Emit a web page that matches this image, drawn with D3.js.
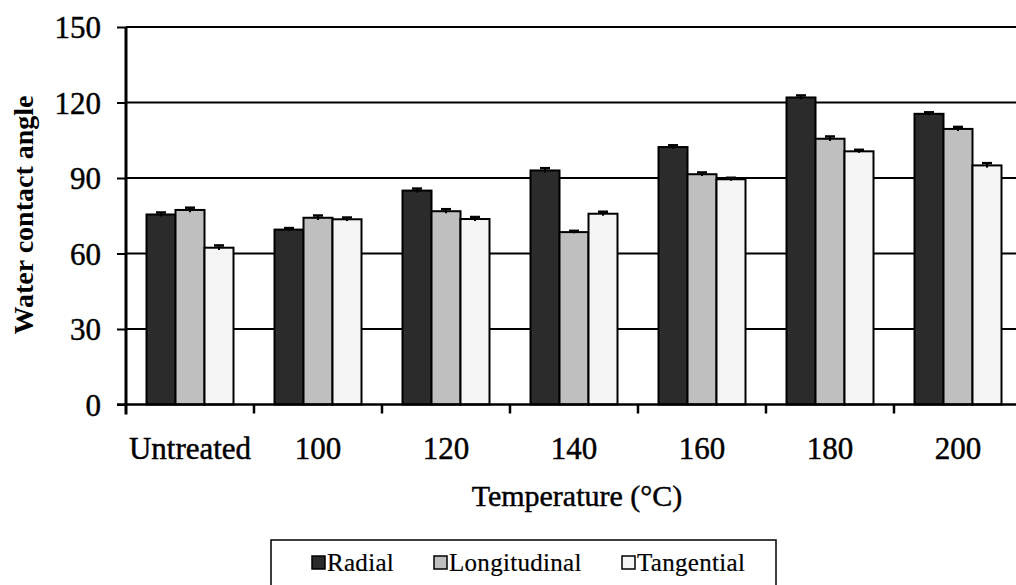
<!DOCTYPE html>
<html>
<head>
<meta charset="utf-8">
<script src="https://cdn.jsdelivr.net/npm/d3@7"></script>
<style>
  body { margin: 0; background: #fff; }
  svg { display: block; font-family: "Liberation Serif", "Times New Roman", serif; }
  text { stroke: #000; stroke-width: 0.45px; fill: #000; }
</style>
</head>
<body>
<div id="chart"></div>
<script>
const categories = ['Untreated', '100', '120', '140', '160', '180', '200'];
const series = ['Radial', 'Longitudinal', 'Tangential'];
const radial = [75.5, 69.5, 85, 93, 102.3, 122, 115.5];
const longitudinal = [77.3, 74.2, 76.8, 68.5, 91.5, 105.6, 109.5];
const tangential = [62.3, 73.6, 73.7, 75.8, 89.5, 100.6, 95];
const radialErr = [0.8, 0.6, 0.8, 0.9, 0.7, 0.8, 0.6];
const longitudinalErr = [0.9, 0.9, 0.8, 0.5, 0.7, 0.9, 0.8];
const tangentialErr = [0.9, 0.7, 0.8, 0.8, 0.6, 0.6, 0.9];
const yTicks = [0, 30, 60, 90, 120, 150];
const colors = ['#2b2b2b', '#bfbfbf', '#f5f5f5'];

const w = 1016, h = 585;
const values = [radial, longitudinal, tangential];
const errs = [radialErr, longitudinalErr, tangentialErr];

const svg = d3.select('#chart').append('svg').attr('width', w).attr('height', h);

// the plot runs a little past the right edge of the picture
const xScale = d3.scaleBand().domain(categories).range([126, 1022]);
const xInner = d3.scaleBand().domain(series).range([0, xScale.bandwidth()]).paddingOuter(0.707);
const yScale = d3.scaleLinear().domain([0, 150]).range([404.5, 27]);

// gridlines
svg.append('g')
    .selectAll('line')
    .data(yTicks.filter(d => d > 0))
    .enter()
    .append('line')
    .attr('x1', 126).attr('x2', w)
    .attr('y1', d => yScale(d)).attr('y2', d => yScale(d))
    .attr('stroke', '#000').attr('stroke-width', 2);

// bars
const rows = [];
categories.forEach((c, i) => series.forEach((s, j) => rows.push({ c, s, j, v: values[j][i], e: errs[j][i] })));
const cx = d => xScale(d.c) + xInner(d.s) + xInner.bandwidth() / 2;

svg.append('g')
    .selectAll('rect')
    .data(rows)
    .enter()
    .append('rect')
    .attr('x', d => xScale(d.c) + xInner(d.s))
    .attr('y', d => yScale(d.v))
    .attr('width', xInner.bandwidth())
    .attr('height', d => yScale(0) - yScale(d.v))
    .attr('fill', d => colors[d.j])
    .attr('stroke', '#000')
    .attr('stroke-width', 2);

// error bars
const eb = svg.append('g').selectAll('g').data(rows).enter().append('g');
eb.append('line')
    .attr('x1', cx).attr('x2', cx)
    .attr('y1', d => yScale(d.v + d.e)).attr('y2', d => yScale(d.v - d.e))
    .attr('stroke', '#000').attr('stroke-width', 2);
eb.append('line')
    .attr('x1', d => cx(d) - 5).attr('x2', d => cx(d) + 5)
    .attr('y1', d => yScale(d.v + d.e)).attr('y2', d => yScale(d.v + d.e))
    .attr('stroke', '#000').attr('stroke-width', 2.5);

// y axis
const yAxis = d3.axisLeft(yScale).tickValues(yTicks).tickSize(9).tickPadding(16);
const gy = svg.append('g').attr('transform', 'translate(126,0)').call(yAxis);
gy.select('.domain').attr('stroke-width', 3).attr('d', 'M0,' + yScale(150) + 'V' + (yScale(0) + 10));
gy.selectAll('.tick line').attr('stroke-width', 2);
gy.selectAll('.tick text').attr('font-size', 31).attr('dy', '0.34em')
    .attr('font-family', '"Liberation Serif", serif');

// x axis
const xAxis = d3.axisBottom(xScale).tickSize(0).tickPadding(32);
const gx = svg.append('g').attr('transform', 'translate(0,' + yScale(0) + ')').call(xAxis);
gx.select('.domain').attr('stroke-width', 2.5).attr('d', 'M117,0H' + w);
gx.selectAll('.tick text').attr('font-size', 31)
    .attr('font-family', '"Liberation Serif", serif');
gx.selectAll('.sep')
    .data(categories)
    .enter()
    .append('line')
    .attr('x1', d => xScale(d) + xScale.step())
    .attr('x2', d => xScale(d) + xScale.step())
    .attr('y1', 0).attr('y2', 9)
    .attr('stroke', '#000').attr('stroke-width', 2.5);

// axis titles
svg.append('text')
    .attr('transform', 'translate(33,215) rotate(-90)')
    .attr('text-anchor', 'middle')
    .attr('font-size', 28)
    .attr('font-weight', 'bold')
    .style('stroke-width', 0)
    .text('Water contact angle');
svg.append('text')
    .attr('x', 577).attr('y', 506)
    .attr('text-anchor', 'middle')
    .attr('font-size', 30)
    .text('Temperature (°C)');

// legend
const legend = svg.append('g');
legend.append('rect')
    .attr('x', 271).attr('y', 540).attr('width', 505).attr('height', 60)
    .attr('fill', '#fff').attr('stroke', '#000').attr('stroke-width', 1.5);
const lx = [312, 434, 622];
const items = legend.selectAll('g.item').data(series).enter().append('g')
    .attr('transform', (d, i) => 'translate(' + lx[i] + ',556)');
items.append('rect')
    .attr('width', 13).attr('height', 13)
    .attr('fill', (d, i) => colors[i]).attr('stroke', '#000').attr('stroke-width', 1.5);
items.append('text')
    .attr('x', 15).attr('y', 15)
    .attr('font-size', 25)
    .attr('letter-spacing', 0.3)
    .style('stroke-width', 0.2)
    .text(d => d);
</script>
</body>
</html>
